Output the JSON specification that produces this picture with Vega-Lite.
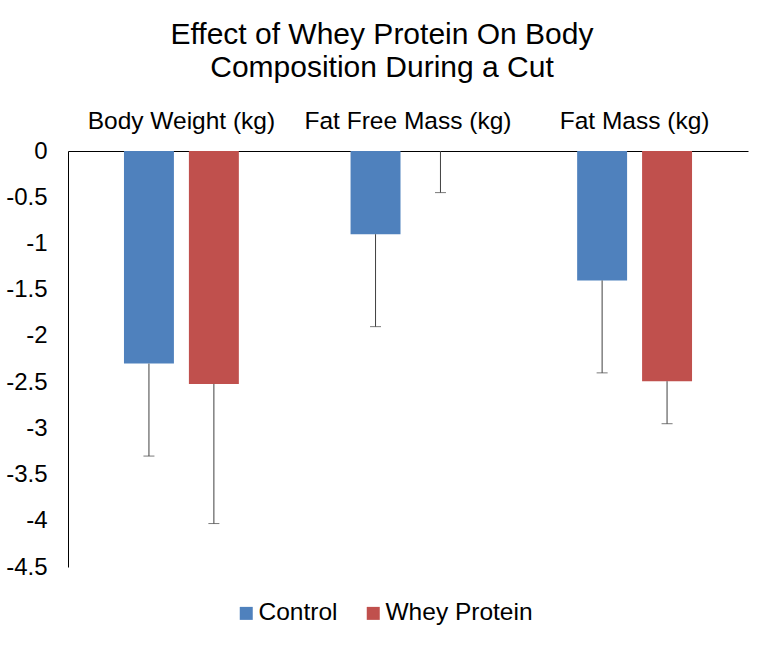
{
  "$schema": "https://vega.github.io/schema/vega-lite/v6.json",
  "width": 680,
  "height": 416,
  "autosize": {"type": "none"},
  "padding": {"left": 68, "top": 151, "right": 15, "bottom": 80},
  "background": "white",
  "title": {
    "text": ["Effect of Whey Protein On Body", "Composition During a Cut"],
    "font": "Liberation Sans",
    "fontSize": 30,
    "fontWeight": "normal",
    "color": "black",
    "lineHeight": 33,
    "anchor": "middle",
    "dx": -26,
    "offset": 25
  },
  "data": {
    "values": [
      {"measure": "Body Weight (kg)", "group": "Control", "change": -2.3, "low": -3.3},
      {"measure": "Body Weight (kg)", "group": "Whey Protein", "change": -2.52, "low": -4.03},
      {"measure": "Fat Free Mass (kg)", "group": "Control", "change": -0.9, "low": -1.9},
      {"measure": "Fat Free Mass (kg)", "group": "Whey Protein", "change": 0, "low": -0.45},
      {"measure": "Fat Mass (kg)", "group": "Control", "change": -1.4, "low": -2.4},
      {"measure": "Fat Mass (kg)", "group": "Whey Protein", "change": -2.49, "low": -2.95}
    ]
  },
  "encoding": {
    "x": {
      "field": "measure",
      "type": "nominal",
      "sort": ["Body Weight (kg)", "Fat Free Mass (kg)", "Fat Mass (kg)"],
      "scale": {"paddingInner": 0.493, "paddingOuter": 0.247},
      "axis": {
        "orient": "top",
        "title": null,
        "labelAngle": 0,
        "ticks": false,
        "domainColor": "black",
        "domainWidth": 1,
        "labelFont": "Liberation Sans",
        "labelFontSize": 24.5,
        "labelColor": "black",
        "labelPadding": 18,
        "labelLimit": 0
      }
    },
    "xOffset": {
      "field": "group",
      "type": "nominal",
      "scale": {"paddingInner": 0.2308, "paddingOuter": 0}
    }
  },
  "layer": [
    {
      "mark": {"type": "bar"},
      "encoding": {
        "y": {
          "field": "change",
          "type": "quantitative",
          "scale": {"domain": [-4.5, 0], "nice": false},
          "axis": {
            "title": null,
            "values": [0, -0.5, -1, -1.5, -2, -2.5, -3, -3.5, -4, -4.5],
            "labelExpr": "'' + datum.value",
            "grid": false,
            "ticks": false,
            "domainColor": "black",
            "domainWidth": 1,
            "labelFont": "Liberation Sans",
            "labelFontSize": 24,
            "labelColor": "black",
            "labelPadding": 21,
            "labelFlush": false
          }
        },
        "y2": {"datum": 0},
        "color": {
          "field": "group",
          "type": "nominal",
          "scale": {"domain": ["Control", "Whey Protein"], "range": ["#4F81BD", "#C0504D"]},
          "legend": {
            "title": null,
            "orient": "none",
            "direction": "horizontal",
            "legendX": 166,
            "legendY": 450,
            "symbolType": "square",
            "symbolSize": 169,
            "symbolStrokeWidth": 0,
            "labelFont": "Liberation Sans",
            "labelFontSize": 24.5,
            "labelColor": "black",
            "labelOffset": 0,
            "columnPadding": 23,
            "labelLimit": 0
          }
        }
      }
    },
    {
      "mark": {"type": "rule", "color": "#404040", "strokeWidth": 1},
      "encoding": {
        "y": {"field": "change", "type": "quantitative"},
        "y2": {"field": "low"}
      }
    },
    {
      "mark": {"type": "tick", "color": "#404040", "size": 11, "thickness": 1},
      "encoding": {
        "y": {"field": "low", "type": "quantitative"}
      }
    }
  ],
  "config": {
    "view": {"stroke": null}
  }
}
